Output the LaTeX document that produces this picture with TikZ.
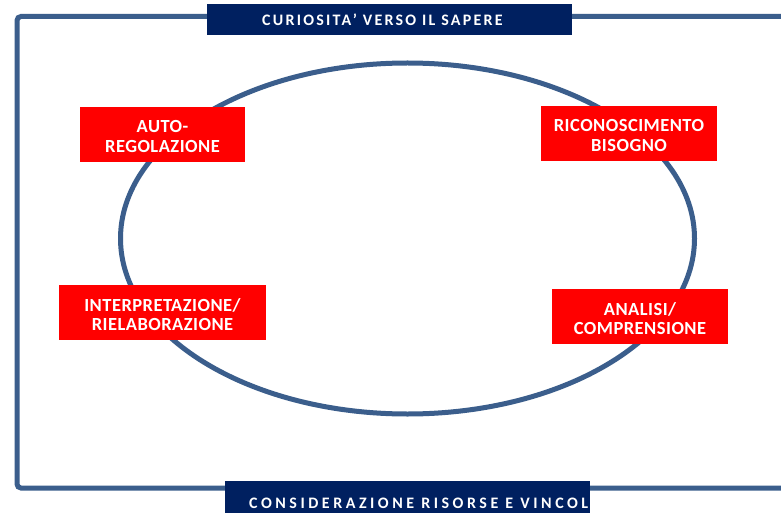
\documentclass[tikz,border=0pt]{standalone}
\usepackage{fontspec}
\usetikzlibrary{shapes.geometric}
\setmainfont{Carlito}
\definecolor{frameblue}{HTML}{3B5E8C}
\definecolor{navy}{HTML}{002060}
\definecolor{boxred}{HTML}{FF0000}
\begin{document}
\begin{tikzpicture}[x=1pt,y=-1pt,
  redbox/.style={fill=boxred, text=white, inner sep=0pt, align=center,
    font=\fontsize{18.5}{19.5}\selectfont\bfseries\addfontfeature{LetterSpace=2.5}},
  redtext/.style={text=white, inner sep=0pt, align=center,
    font=\fontsize{18.5}{19.5}\selectfont\bfseries\addfontfeature{LetterSpace=2.5}},
  navybox/.style={fill=navy, inner sep=0pt},
  navytext/.style={text=white, inner sep=0pt,
    font=\fontsize{16}{18}\selectfont\bfseries\addfontfeature{LetterSpace=14}},
  bluline/.style={draw=frameblue, line width=5pt}]
\useasboundingbox (0,0) rectangle (781,513);
\clip (0,0) rectangle (781,513);
\fill[white] (0,0) rectangle (781,513);
% frame
\coordinate (ftr) at (790,16.5);
\coordinate (ftl) at (17,16.5);
\coordinate (fbl) at (17,488);
\coordinate (fbr) at (790,488);
\draw[bluline, rounded corners=4pt] (ftr) -- (ftl) -- (fbl) -- (fbr);
% top label
\node[navybox, minimum width=365pt, minimum height=31pt] (top) at (389.5,19.5) {};
\node[navytext, anchor=base west] (toptext) at (262,26) {CURIOSITA’ VERSO IL SAPERE};
% bottom label
\node[navybox, minimum width=365pt, minimum height=40pt] (bot) at (407.5,501) {};
\begin{scope}
\clip (bot.south west) rectangle (bot.north east);
\node[navytext, font=\fontsize{16}{18}\selectfont\bfseries\addfontfeature{LetterSpace=22}, anchor=base west] (bottext) at (249,508) {CONSIDERAZIONE RISORSE E VINCOL};
\end{scope}
% ellipse
\node[bluline, ellipse, minimum width=574pt, minimum height=351pt, inner sep=0pt] (ell) at (407.5,238.5) {};
% red boxes
\node[redbox, minimum width=165pt, minimum height=55pt] (auto) at (162.5,134.5) {};
\node[redtext] (autot) at ([yshift=-2pt]auto.center) {AUTO-\\REGOLAZIONE};
\node[redbox, minimum width=207pt, minimum height=55pt] (interp) at (162.5,312.5) {};
\node[redtext] (interpt) at ([yshift=-2pt]interp.center) {INTERPRETAZIONE/\\RIELABORAZIONE};
\node[redbox, minimum width=176pt, minimum height=55pt] (ricon) at (629,133.5) {};
\node[redtext] (ricont) at ([yshift=-2pt]ricon.center) {RICONOSCIMENTO\\BISOGNO};
\node[redbox, minimum width=176pt, minimum height=55pt] (analisi) at (640,316.5) {};
\node[redtext] (analisit) at ([yshift=-2pt]analisi.center) {ANALISI/\\COMPRENSIONE};
\end{tikzpicture}
\end{document}
